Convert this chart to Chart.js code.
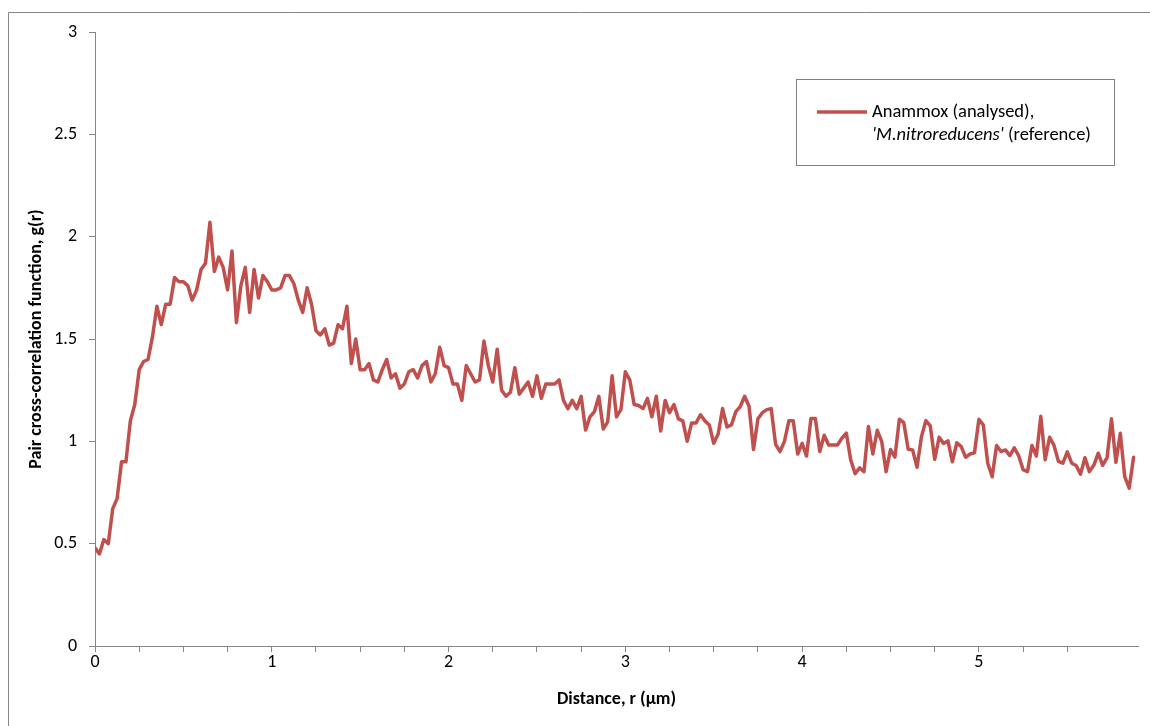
<!DOCTYPE html>
<html><head><meta charset="utf-8">
<script src="https://cdn.jsdelivr.net/npm/chart.js@4.4.1/dist/chart.umd.min.js"></script>
<style>html,body{margin:0;padding:0;background:#fff;overflow:hidden}#wrap{width:1150px;height:726px;position:relative}</style>
</head><body><div id="wrap"><canvas id="c" width="1150" height="726"></canvas></div>
<script>
const legendLine1 = "Anammox (analysed),";
const legendItalic = "'M.nitroreducens'";
const legendRest = " (reference)";
const xTitle = "Distance, r (\u00b5m)";
const yTitle = "Pair cross-correlation function, g(r)";
const rStep = 0.025;           // spacing of the distance categories (µm)
const xMax = 5.9;
const xLabelValues = [0, 1, 2, 3, 4, 5];
const yTickValues = [0, 0.5, 1, 1.5, 2, 2.5, 3];
const gValues = [
0.48,0.45,0.52,0.50,0.67,0.72,0.90,0.90,1.10,1.18,
1.35,1.39,1.40,1.51,1.66,1.57,1.67,1.67,1.80,1.78,
1.78,1.76,1.69,1.74,1.84,1.87,2.07,1.83,1.90,1.85,
1.74,1.93,1.58,1.76,1.85,1.63,1.84,1.70,1.81,1.78,
1.74,1.74,1.75,1.81,1.81,1.77,1.69,1.63,1.75,1.67,
1.54,1.52,1.55,1.47,1.48,1.57,1.55,1.66,1.38,1.50,
1.35,1.35,1.38,1.30,1.29,1.35,
1.40,1.31,1.33,1.26,1.28,1.34,1.35,1.31,1.37,1.39,
1.29,1.33,1.46,1.37,1.36,1.28,1.28,1.20,1.37,1.33,
1.29,1.30,1.49,1.37,1.29,1.45,1.25,1.22,1.24,1.36,
1.23,1.26,1.29,1.22,1.32,1.21,1.28,1.28,1.28,1.30,
1.20,1.16,1.20,1.16,1.22,1.055,1.12,1.145,1.22,1.06,
1.095,1.32,1.12,1.155,1.34,1.30,1.18,1.175,1.16,1.21,
1.12,1.22,1.05,1.20,1.14,1.18,1.11,1.10,1.00,1.09,
1.09,1.13,1.10,1.08,0.99,1.036,1.16,1.07,1.08,1.145,
1.17,1.22,1.17,0.96,1.11,1.14,1.155,1.16,0.985,0.95,
1.00,1.10,1.10,0.938,0.99,0.928,1.112,1.112,0.95,1.03,
0.982,0.982,0.982,1.015,1.04,0.909,0.842,0.87,0.852,1.072,
0.938,1.054,1.00,0.852,0.96,0.923,1.108,1.091,0.961,0.958,
0.873,1.023,1.101,1.075,0.912,1.02,0.99,1.002,0.90,0.993,
0.974,0.922,0.938,0.944,1.108,1.08,0.893,0.827,0.98,0.95,
0.958,0.93,0.968,0.93,0.862,0.852,0.98,0.928,1.122,0.91,
1.02,0.98,0.902,0.893,0.949,0.893,0.882,0.84,0.92,0.852,
0.883,0.942,0.883,0.92,1.11,0.898,1.039,0.827,0.771,0.922
];
const distance = gValues.map((_, i) => +(i * rStep).toFixed(3));

const FONT = "Carlito, Lato, 'Open Sans', sans-serif";
const AXIS = '#868686';
const RED = '#C0504D';

const frameAndLegend = {
  id: 'frameAndLegend',
  beforeDraw(chart) {
    const ctx = chart.ctx;
    ctx.save();
    ctx.fillStyle = '#fff';
    ctx.fillRect(0, 0, chart.width, chart.height);
    ctx.strokeStyle = AXIS; ctx.lineWidth = 1;
    ctx.beginPath();
    ctx.moveTo(8.5, chart.height + 5); ctx.lineTo(8.5, 12.5); ctx.lineTo(chart.width + 5, 12.5);
    ctx.stroke();
    ctx.restore();
  },
  afterDraw(chart) {
    const ctx = chart.ctx;
    ctx.save();
    ctx.strokeStyle = '#7f7f7f'; ctx.lineWidth = 1;
    ctx.strokeRect(796.5, 79.5, 318, 86);
    ctx.strokeStyle = RED; ctx.lineWidth = 3.5; ctx.lineCap = 'butt';
    ctx.beginPath(); ctx.moveTo(817, 112); ctx.lineTo(867, 112); ctx.stroke();
    ctx.fillStyle = '#000'; ctx.textBaseline = 'middle'; ctx.textAlign = 'left';
    ctx.font = '18.5px ' + FONT;
    ctx.fillText(legendLine1, 872, 112);
    ctx.font = 'italic 18.5px ' + FONT;
    ctx.fillText(legendItalic, 872, 135);
    const w = ctx.measureText(legendItalic).width;
    ctx.font = '18.5px ' + FONT;
    ctx.fillText(legendRest, 872 + w, 135);
    ctx.restore();
  }
};

new Chart(document.getElementById('c'), {
  type: 'line',
  data: {
    datasets: [{
      label: legendLine1 + ' ' + legendItalic + legendRest,
      data: distance.map((r, i) => ({ x: r, y: gValues[i] })),
      borderColor: RED,
      borderWidth: 3.5,
      borderJoinStyle: 'round',
      borderCapStyle: 'round',
      pointRadius: 0,
      tension: 0,
      fill: false
    }]
  },
  options: {
    responsive: false,
    devicePixelRatio: 1,
    animation: false,
    layout: { padding: { top: 32, right: 12, left: 0, bottom: 0 } },
    plugins: { legend: { display: false }, tooltip: { enabled: false } },
    scales: {
      x: {
        type: 'linear', position: 'bottom', min: 0, max: xMax,
        afterBuildTicks: s => { s.ticks = s.ticks.filter(t => Math.abs(t.value / 0.25 - Math.round(t.value / 0.25)) < 1e-6); },
        afterFit: s => { s.height = 80; },
        grid: { display: true, drawOnChartArea: false, drawTicks: true, tickLength: 6, color: AXIS, lineWidth: 1 },
        border: { display: true, color: AXIS, width: 1 },
        ticks: {
          stepSize: 0.25, autoSkip: false, maxRotation: 0, padding: 0, color: '#000',
          font: { family: FONT, size: 18 },
          callback: v => xLabelValues.includes(Math.round(v * 1000) / 1000) ? String(Math.round(v)) : ''
        },
        title: { display: true, text: xTitle, color: '#000', font: { family: FONT, size: 18, weight: 'bold' }, padding: { top: 0, bottom: 16 } }
      },
      y: {
        min: 0, max: 3,
        afterBuildTicks: s => { s.ticks = yTickValues.map(v => ({ value: v })); },
        afterFit: s => { s.width = 95; },
        grid: { display: true, drawOnChartArea: false, drawTicks: true, tickLength: 6, color: AXIS, lineWidth: 1 },
        border: { display: true, color: AXIS, width: 1 },
        ticks: { padding: 12, color: '#000', font: { family: FONT, size: 18 }, callback: v => String(v) },
        title: { display: true, text: yTitle, color: '#000', font: { family: FONT, size: 18, weight: 'bold' }, padding: { top: 26, bottom: 0 } }
      }
    }
  },
  plugins: [frameAndLegend]
});
</script>
</body></html>
